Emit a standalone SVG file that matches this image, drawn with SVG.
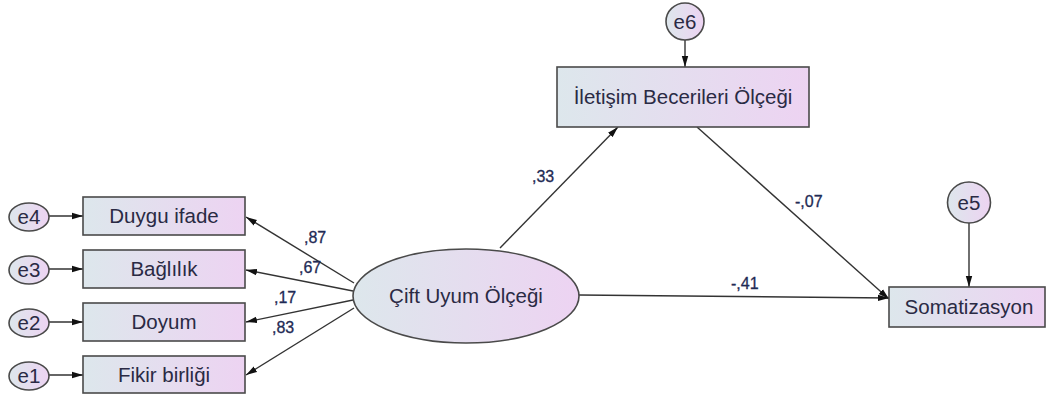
<svg xmlns="http://www.w3.org/2000/svg" width="1047" height="396" viewBox="0 0 1047 396">
<defs>
<linearGradient id="g" x1="0" y1="0" x2="1" y2="0">
<stop offset="0" stop-color="#dde7ec"/>
<stop offset="1" stop-color="#edd3f2"/>
</linearGradient>
<marker id="ah" markerWidth="12" markerHeight="8" refX="11" refY="4" orient="auto" markerUnits="userSpaceOnUse">
<path d="M0,0.8 L11,4 L0,7.2 Z" fill="#111"/>
</marker>
<style>
.box{fill:url(#g);stroke:#4a4a4a;stroke-width:1.6}
.el{fill:url(#g);stroke:#4a4a4a;stroke-width:1.6}
.t{font-family:"Liberation Sans",Arial,sans-serif;font-size:20.5px;fill:#2a2a44;text-anchor:middle}
.et{font-family:"Liberation Sans",Arial,sans-serif;font-size:20.5px;fill:#2a2a44;text-anchor:middle}
.lb{font-family:"Liberation Sans",Arial,sans-serif;font-size:16px;fill:#1f2b55;stroke:#1f2b55;stroke-width:0.3}
.c{stroke:#333;stroke-width:1.4;fill:none;marker-end:url(#ah)}
</style>
</defs>
<rect width="1047" height="396" fill="#fff"/>
<g id="connectors">
<line class="c" x1="49" y1="216" x2="83" y2="216"/>
<line class="c" x1="49" y1="269" x2="83" y2="269"/>
<line class="c" x1="49" y1="322" x2="83" y2="322"/>
<line class="c" x1="49" y1="375" x2="83" y2="375"/>
<line class="c" x1="354" y1="283" x2="246" y2="217"/>
<line class="c" x1="353" y1="291" x2="246" y2="270"/>
<line class="c" x1="353" y1="300" x2="246" y2="322"/>
<line class="c" x1="354" y1="308" x2="246" y2="375"/>
<line class="c" x1="500" y1="248" x2="618" y2="127"/>
<line class="c" x1="697" y1="127" x2="889" y2="299"/>
<line class="c" x1="579" y1="295" x2="889" y2="298"/>
<line class="c" x1="685" y1="40" x2="685" y2="67"/>
<line class="c" x1="969" y1="223" x2="969" y2="287"/>
<text class="lb" x="304" y="243">,87</text>
<text class="lb" x="299" y="273">,67</text>
<text class="lb" x="274" y="303">,17</text>
<text class="lb" x="272" y="333">,83</text>
<text class="lb" x="532" y="182">,33</text>
<text class="lb" x="795" y="207">-,07</text>
<text class="lb" x="731" y="289">-,41</text>
</g>
<g id="e4"><ellipse class="el" cx="29" cy="217" rx="20" ry="14"/><text class="et" x="29" y="224">e4</text></g>
<g id="e3"><ellipse class="el" cx="29" cy="270" rx="20" ry="14"/><text class="et" x="29" y="277">e3</text></g>
<g id="e2"><ellipse class="el" cx="29" cy="323" rx="20" ry="14"/><text class="et" x="29" y="330">e2</text></g>
<g id="e1"><ellipse class="el" cx="29" cy="376" rx="20" ry="14"/><text class="et" x="29" y="383">e1</text></g>
<g id="duygu"><rect class="box" x="83" y="197" width="162" height="38"/><text class="t" x="164" y="223">Duygu ifade</text></g>
<g id="baglilik"><rect class="box" x="83" y="250" width="162" height="38"/><text class="t" x="164" y="276">Bağlılık</text></g>
<g id="doyum"><rect class="box" x="83" y="303" width="162" height="38"/><text class="t" x="164" y="329">Doyum</text></g>
<g id="fikir"><rect class="box" x="83" y="356" width="162" height="37"/><text class="t" x="164" y="382">Fikir birliği</text></g>
<g id="cift"><ellipse class="el" cx="466" cy="296" rx="113" ry="47"/><text class="t" x="466" y="303">Çift Uyum Ölçeği</text></g>
<g id="iletisim"><rect class="box" x="557" y="67" width="252" height="60"/><text class="t" x="683" y="104">İletişim Becerileri Ölçeği</text></g>
<g id="e6"><ellipse class="el" cx="685" cy="21.5" rx="19" ry="18.5"/><text class="et" x="685" y="29">e6</text></g>
<g id="somatizasyon"><rect class="box" x="889" y="287" width="156" height="40"/><text class="t" x="969" y="314">Somatizasyon</text></g>
<g id="e5"><ellipse class="el" cx="969" cy="202.5" rx="21.5" ry="20.5"/><text class="et" x="969" y="210">e5</text></g>
</svg>
